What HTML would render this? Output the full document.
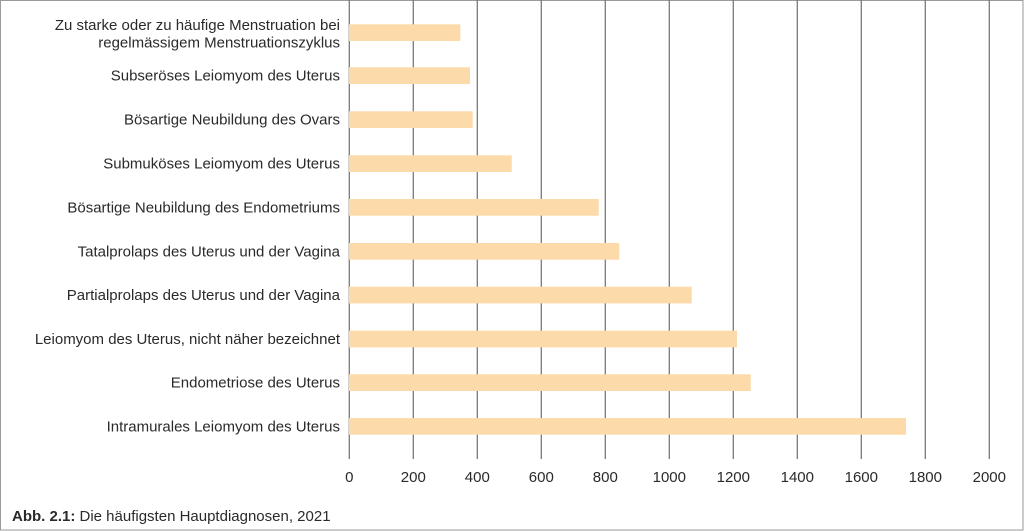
<!DOCTYPE html>
<html><head><meta charset="utf-8"><style>
html,body{margin:0;padding:0;background:#fff;}
svg{display:block;}
text{font-family:"Liberation Sans",Arial,sans-serif;font-size:15px;fill:#2a2a2a;}
</style></head><body>
<svg width="1024" height="531" viewBox="0 0 1024 531" xmlns="http://www.w3.org/2000/svg">
<rect x="0.5" y="0.5" width="1022.5" height="529.5" fill="#fff" stroke="#9a9a9a" stroke-width="1"/>
<g stroke="#7a7a7a" stroke-width="1.3">
<line x1="349.3" y1="0" x2="349.3" y2="459"/>
<line x1="413.3" y1="0" x2="413.3" y2="459"/>
<line x1="477.3" y1="0" x2="477.3" y2="459"/>
<line x1="541.3" y1="0" x2="541.3" y2="459"/>
<line x1="605.3" y1="0" x2="605.3" y2="459"/>
<line x1="669.3" y1="0" x2="669.3" y2="459"/>
<line x1="733.3" y1="0" x2="733.3" y2="459"/>
<line x1="797.3" y1="0" x2="797.3" y2="459"/>
<line x1="861.3" y1="0" x2="861.3" y2="459"/>
<line x1="925.3" y1="0" x2="925.3" y2="459"/>
<line x1="989.3" y1="0" x2="989.3" y2="459"/>
</g>
<g fill="#fddaa9">
<rect x="349" y="24.3" width="111.3" height="16.7"/>
<rect x="349" y="67.3" width="121" height="16.7"/>
<rect x="349" y="111.3" width="123.7" height="16.7"/>
<rect x="349" y="155.3" width="162.7" height="16.7"/>
<rect x="349" y="199" width="249.7" height="16.7"/>
<rect x="349" y="243" width="270.3" height="16.7"/>
<rect x="349" y="286.7" width="342.7" height="16.7"/>
<rect x="349" y="330.7" width="388" height="16.7"/>
<rect x="349" y="374.3" width="401.7" height="16.7"/>
<rect x="349" y="418" width="557" height="16.7"/>
</g>
<g text-anchor="end">
<text x="340" y="30">Zu starke oder zu häufige Menstruation bei</text>
<text x="340" y="47.5">regelmässigem Menstruationszyklus</text>
<text x="340" y="80.7">Subseröses Leiomyom des Uterus</text>
<text x="340" y="124.7">Bösartige Neubildung des Ovars</text>
<text x="340" y="168.7">Submuköses Leiomyom des Uterus</text>
<text x="340" y="212.4">Bösartige Neubildung des Endometriums</text>
<text x="340" y="256.4">Tatalprolaps des Uterus und der Vagina</text>
<text x="340" y="300.1">Partialprolaps des Uterus und der Vagina</text>
<text x="340" y="344.1">Leiomyom des Uterus, nicht näher bezeichnet</text>
<text x="340" y="387.7">Endometriose des Uterus</text>
<text x="340" y="431.4">Intramurales Leiomyom des Uterus</text>
</g>
<g text-anchor="middle">
<text x="349.3" y="482">0</text>
<text x="413.3" y="482">200</text>
<text x="477.3" y="482">400</text>
<text x="541.3" y="482">600</text>
<text x="605.3" y="482">800</text>
<text x="669.3" y="482">1000</text>
<text x="733.3" y="482">1200</text>
<text x="797.3" y="482">1400</text>
<text x="861.3" y="482">1600</text>
<text x="925.3" y="482">1800</text>
<text x="989.3" y="482">2000</text>
</g>
<text x="12" y="521"><tspan font-weight="bold">Abb. 2.1:</tspan> Die häufigsten Hauptdiagnosen, 2021</text>
</svg>
</body></html>
